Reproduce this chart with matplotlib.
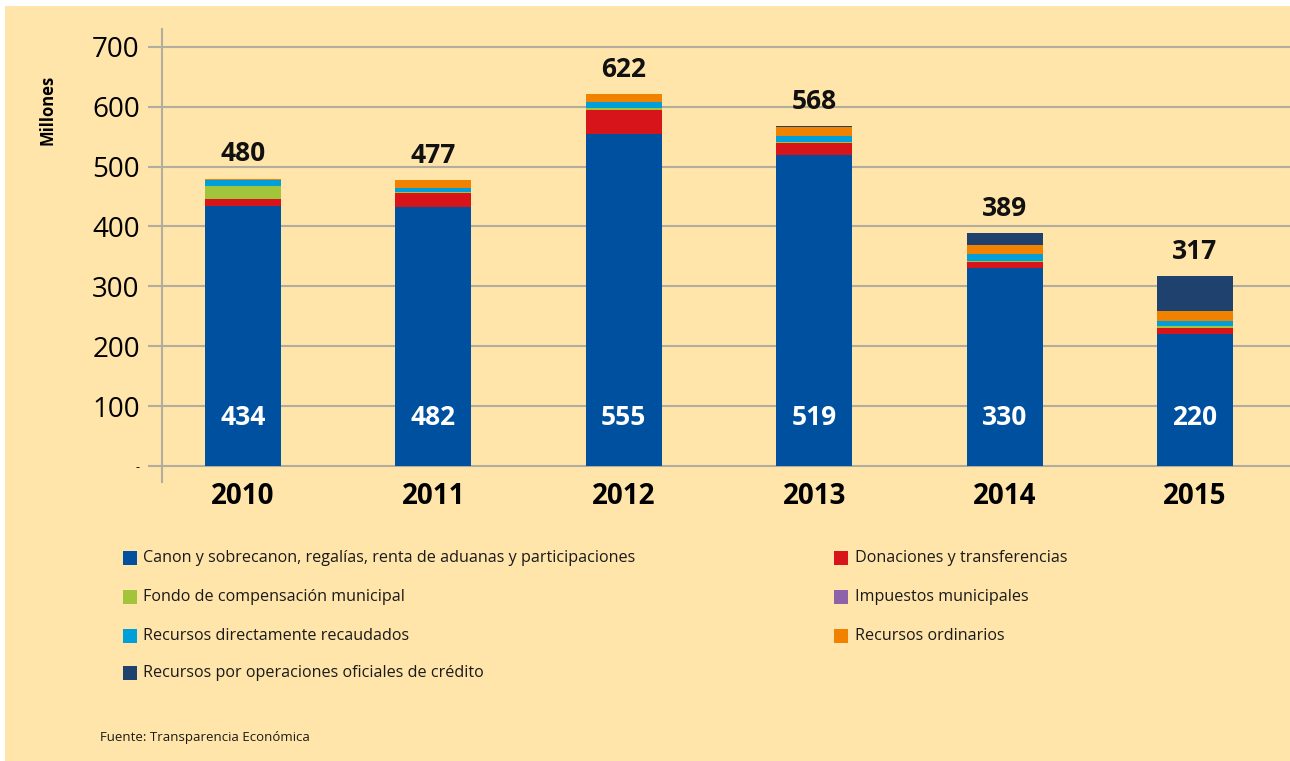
import numpy as np
import matplotlib
matplotlib.use("Agg")
import matplotlib.pyplot as plt
from matplotlib.patches import Rectangle

plt.rcParams['font.family'] = ['Open Sans', 'DejaVu Sans']

# datos (millones)
years = ['2010', '2011', '2012', '2013', '2014', '2015']
canon = [434, 432, 555, 519, 330, 220]
donaciones = [12, 24, 40, 20, 11, 11]
foncomun = [21, 2, 3, 2, 2, 3]
impuestos = [0, 0, 0, 0, 0, 0]
directos = [10, 7, 10, 11, 11, 8]
ordinarios = [3, 12, 14, 14, 15, 16]
credito = [0, 0, 0, 2, 20, 59]
totales = [480, 477, 622, 568, 389, 317]
etiq_canon = [434, 482, 555, 519, 330, 220]

series = [
    ("Canon y sobrecanon, regalías, renta de aduanas y participaciones", canon, '#0050a0'),
    ("Donaciones y transferencias", donaciones, '#d7141a'),
    ("Fondo de compensación municipal", foncomun, '#a2c43a'),
    ("Impuestos municipales", impuestos, '#8e62a8'),
    ("Recursos directamente recaudados", directos, '#009fda'),
    ("Recursos ordinarios", ordinarios, '#f08200'),
    ("Recursos por operaciones oficiales de crédito", credito, '#1f416e'),
]

bg = '#ffe5aa'
grid_c = '#b3ada0'

fig = plt.figure(figsize=(12.9, 7.61), dpi=100)
fig.patch.set_facecolor('white')
fig.add_artist(Rectangle((5/1290, 0), 1, 1 - 6/761, transform=fig.transFigure,
                         facecolor=bg, edgecolor='none', zorder=-10))

ax = fig.add_axes([162/1290, 1 - 482/761, 1 - 162/1290, 453/761])
ax.set_facecolor('none')

x = np.arange(len(years))
bottom = np.zeros(len(years))
for name, vals, col in series:
    ax.bar(x, vals, width=0.40, bottom=bottom, color=col, label=name, zorder=3)
    bottom += np.array(vals)

ax.set_xlim(-0.4254, 5.499)
ax.set_ylim(-27, 730)

# rejilla
for v in range(0, 800, 100):
    ax.axhline(v, color=grid_c, lw=1.5, zorder=1)
ax.set_yticks(range(0, 800, 100))
ax.set_yticklabels(['-'] + [str(v) for v in range(100, 800, 100)], fontsize=20)
ax.tick_params(axis='y', length=10, width=1.5, color=grid_c, pad=6)
ax.get_yticklabels()[0].set_fontsize(9)

ax.set_xticks(x)
ax.set_xticklabels(years, fontsize=20, fontweight='bold')
ax.tick_params(axis='x', length=0, pad=0)

for s in ['top', 'right', 'bottom']:
    ax.spines[s].set_visible(False)
ax.spines['left'].set_color(grid_c)
ax.spines['left'].set_linewidth(1.5)

# etiquetas
for i in range(len(years)):
    ax.annotate(str(totales[i]), (x[i], bottom[i]), xytext=(0, 8),
                textcoords='offset points', ha='center', va='bottom',
                fontsize=19, fontweight='bold', color='#111111')
    ax.text(x[i], 80, str(etiq_canon[i]), ha='center', va='center',
            fontsize=19, fontweight='bold', color='white', zorder=4)

fig.text(47/1290, 1 - 110/761, 'Millones', rotation=90, ha='center', va='center',
         fontsize=12, fontweight='bold')

# leyenda manual
col1 = [0, 2, 4, 6]
col2 = [1, 3, 5]
rows_y = [558, 597, 636, 673]
for r, k in enumerate(col1):
    yy = rows_y[r]
    fig.add_artist(Rectangle((123/1290, 1 - (yy + 7)/761), 14/1290, 14/761,
                             transform=fig.transFigure, facecolor=series[k][2], edgecolor='none'))
    fig.text(143/1290, 1 - yy/761, series[k][0], ha='left', va='center', fontsize=11.6,
             color='#1a1a1a')
for r, k in enumerate(col2):
    yy = rows_y[r]
    fig.add_artist(Rectangle((834/1290, 1 - (yy + 7)/761), 14/1290, 14/761,
                             transform=fig.transFigure, facecolor=series[k][2], edgecolor='none'))
    fig.text(855/1290, 1 - yy/761, series[k][0], ha='left', va='center', fontsize=11.6,
             color='#1a1a1a')

fig.text(100/1290, 1 - 738/761, 'Fuente: Transparencia Económica', ha='left', va='center',
         fontsize=9.5, color='#1a1a1a')

fig.savefig('out.png', dpi=100, facecolor=fig.get_facecolor())
